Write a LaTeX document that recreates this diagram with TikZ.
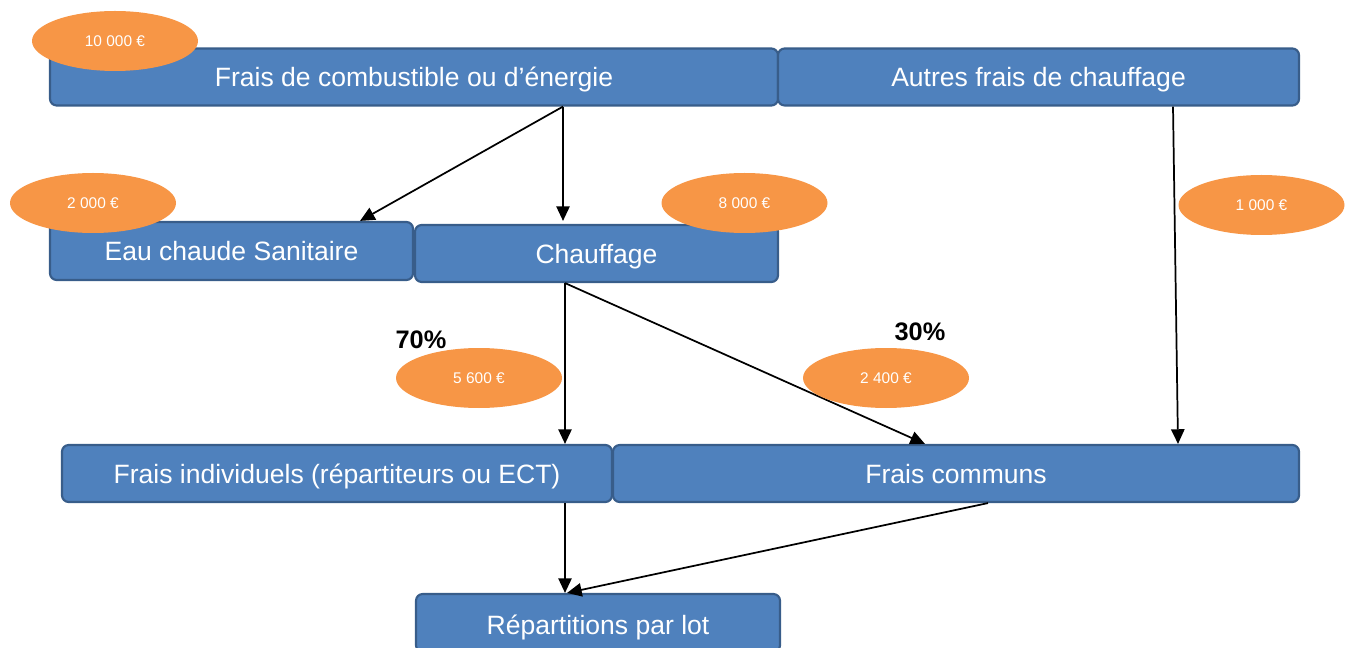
\documentclass[tikz,border=0pt]{standalone}
\usepackage{fontspec}
\setmainfont{Liberation Sans}
\usetikzlibrary{shapes.geometric,arrows.meta,calc}
\definecolor{boxblue}{HTML}{4F81BD}
\definecolor{boxedge}{HTML}{385D8A}
\definecolor{ovalorange}{HTML}{F79646}
\tikzset{
  box/.style={draw=boxedge, fill=boxblue, line width=1.6pt, rounded corners=5pt,
    text=white, font=\fontsize{19.9}{23}\selectfont, inner sep=0pt, text depth=0pt},
  oval/.style={ellipse, fill=ovalorange, draw=none, text=white, inner sep=0pt,
    minimum width=124.5pt, minimum height=45pt, font=\fontsize{11.6}{14}\selectfont},
  pct/.style={font=\bfseries\fontsize{19}{22}\selectfont, inner sep=0pt},
  arr/.style={line width=1.3pt, -{Triangle[length=11pt,width=10pt]}}
}
\begin{document}
\begin{tikzpicture}[x=0.75pt,y=-0.75pt]
\useasboundingbox (0,0) rectangle (1351,648);
\begin{scope}
\clip (0,0) rectangle (1351,648);
% boxes
\node[box, minimum width=546pt, minimum height=42.75pt] (comb) at (414,77) {Frais de combustible ou d’énergie};
\node[box, minimum width=390.75pt, minimum height=42.75pt] (autres) at (1038.5,77) {Autres frais de chauffage};
\node[box, minimum width=272.25pt, minimum height=43.5pt] (eau) at (231.5,251) {Eau chaude Sanitaire};
\node[box, minimum width=272.25pt, minimum height=42.75pt] (chauf) at (596.5,253.5) {Chauffage};
\node[box, minimum width=412.5pt, minimum height=42.75pt] (indiv) at (337,473.5) {Frais individuels (répartiteurs ou ECT)};
\node[box, minimum width=514.5pt, minimum height=42.75pt] (communs) at (956,473.5) {Frais communs};
\node[box, minimum width=273pt, minimum height=43.5pt] (repart) at (598,623) {};
\node[font=\fontsize{19.9}{23}\selectfont, text=white, inner sep=0pt, text depth=0pt] (repartlabel) at (598,625) {Répartitions par lot};
% connectors
\draw[arr] ($(comb.south)+(149,0)$) -- ($(eau.north)+(128.5,0)$);
\draw[arr] ($(comb.south)+(149,0)$) -- ($(chauf.north)+(-33.5,-3)$);
\draw[arr] ($(chauf.south)+(-31.5,0)$) -- ($(indiv.north)+(228,0)$);
\draw[arr] ($(chauf.south)+(-31.5,0)$) -- ($(communs.north)+(-31,0)$);
\draw[arr] ($(autres.south)+(134.5,0)$) -- ($(communs.north)+(222,0)$);
\draw[arr] ($(indiv.south)+(228,0)$) -- ($(repart.north)+(-33,0)$);
\draw[arr] ($(communs.south)+(32,0)$) -- ($(repart.north)+(-31,0)$);
% amounts
\node[oval] (o1) at (115,41) {10 000 €};
\node[oval] (o2) at (93,203) {2 000 €};
\node[oval] (o3) at (744.5,203) {8 000 €};
\node[oval] (o4) at (1261.5,205) {1 000 €};
\node[oval] (o5) at (479,378) {5 600 €};
\node[oval] (o6) at (886,378) {2 400 €};
% percentages
\node[pct] (p70) at (421,340) {70\%};
\node[pct] (p30) at (920,332) {30\%};
\end{scope}
\end{tikzpicture}
\end{document}
